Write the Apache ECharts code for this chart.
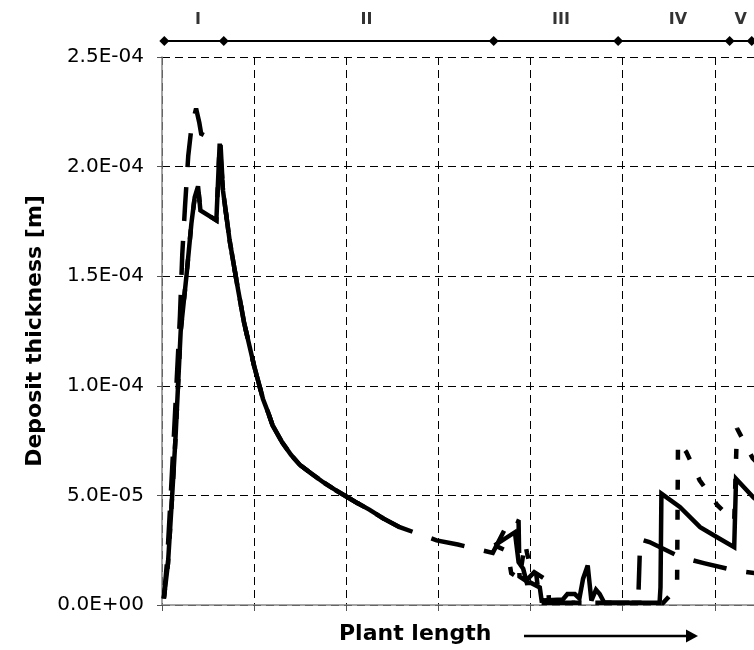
<!DOCTYPE html>
<html>
<head>
<meta charset="utf-8">
<script src="https://cdn.jsdelivr.net/npm/echarts@6/dist/echarts.min.js"></script>
<style>
  html, body { margin: 0; padding: 0; background: #fff; }
  #chart { width: 754px; height: 650px; }
</style>
</head>
<body>
<div id="chart"></div>
<script>
// Plant sections along the length axis (x in plant-length units, 10 per grid cell)
const sectionEdges = [0.25, 6.7, 36.0, 49.5, 61.6, 64.0];
const sectionNames = ['I', 'II', 'III', 'IV', 'V'];
const sectionNameAt = [3.9, 22.2, 43.3, 56.0, 62.8];
const sectionBarLevel = 2.573e-4;
const sectionNameLevel = 2.67e-4;

// y-axis scale
const yMin = 0, yMax = 2.5e-4, yStep = 5e-5;

// Deposit thickness [m] — section I, solid case
const solidI = [
  [0.2, 3e-6], [0.65, 1.9e-5], [1.09, 4.9e-5], [1.45, 7.5e-5], [1.74, 1.0e-4],
  [2.03, 1.25e-4], [2.65, 1.50e-4], [3.19, 1.74e-4], [3.55, 1.86e-4], [3.91, 1.91e-4],
  [4.17, 1.80e-4], [5.90, 1.755e-4], [6.26, 2.105e-4]
];
// section I, dashed case
const dashI = [
  [0.2, 3e-6], [0.55, 2.0e-5], [0.95, 5.0e-5], [1.3, 7.8e-5], [1.6, 1.03e-4],
  [1.95, 1.32e-4], [2.2, 1.6e-4], [2.5, 1.82e-4], [2.85, 2.05e-4], [3.2, 2.18e-4],
  [3.7, 2.265e-4], [4.05, 2.2e-4], [4.25, 2.15e-4], [6.35, 2.105e-4]
];
// section II decay, shared by all cases
const decayII = [
  [6.62, 1.89e-4], [7.35, 1.66e-4], [8.25, 1.44e-4], [8.9, 1.29e-4], [9.5, 1.18e-4],
  [10.0, 1.09e-4], [10.96, 9.4e-5], [11.5, 8.8e-5], [12.0, 8.2e-5], [13.0, 7.45e-5],
  [14.0, 6.85e-5], [14.94, 6.4e-5], [16.2, 6.0e-5], [17.5, 5.6e-5], [18.8, 5.25e-5],
  [20.0, 4.95e-5], [21.2, 4.65e-5], [22.5, 4.35e-5], [24.0, 3.95e-5], [25.8, 3.55e-5]
];
// sections III–V
const solidIIItoV = [
  [36.1, 2.72e-5], [38.3, 3.32e-5], [38.7, 1.95e-5], [39.2, 1.65e-5], [39.6, 1.0e-5],
  [40.0, 1.02e-5], [41.0, 8e-6], [41.2, 2e-6], [43.5, 2.5e-6], [44.0, 5e-6],
  [44.8, 5e-6], [45.3, 3e-6], [45.7, 1.2e-5], [46.2, 1.8e-5], [46.6, 2e-6],
  [47.1, 7e-6], [47.5, 5e-6], [48.0, 1e-6], [54.0, 1e-6], [54.1, 8e-6],
  [54.2, 5.08e-5], [56.2, 4.47e-5], [58.4, 3.55e-5], [60.2, 3.1e-5], [62.1, 2.64e-5],
  [62.3, 5.76e-5], [64.2, 4.9e-5], [66.0, 4.3e-5]
];
const dashIItoV = [
  [29.8, 2.95e-5], [32.1, 2.76e-5], [35.9, 2.38e-5], [37.8, 3.95e-5], [38.7, 3.8e-5],
  [38.8, 1.3e-5], [39.5, 1.1e-5], [40.4, 1.5e-5], [41.9, 1.1e-5], [42.0, 1e-6],
  [51.4, 1e-6], [51.7, 4e-6], [51.9, 3.0e-5], [52.9, 2.87e-5], [56.3, 2.18e-5],
  [58.9, 1.9e-5], [62.1, 1.58e-5], [64.5, 1.45e-5], [66.0, 1.35e-5]
];
const dotIIItoV = [
  [36.1, 2.72e-5], [37.5, 2.45e-5], [37.9, 1.45e-5], [38.8, 1.2e-5], [39.4, 2.86e-5],
  [39.6, 2.4e-5], [40.1, 1.5e-5], [40.6, 1.45e-5], [41.0, 1e-6], [54.4, 1e-6],
  [55.9, 8e-6], [56.0, 7.46e-5], [56.9, 6.98e-5], [58.35, 5.69e-5], [60.3, 4.54e-5],
  [62.1, 3.8e-5], [62.4, 8.06e-5], [64.1, 6.7e-5], [66.0, 5.9e-5]
];

const gap = [[30, '-']];
const solidData = solidI.concat(decayII, gap, solidIIItoV);
const dashData = dashI.concat(decayII, dashIItoV);
const dotData = solidI.concat(decayII, gap, dotIIItoV);

function sci(v) {
  const parts = Number(v).toExponential(1).split('e');
  const e = parseInt(parts[1], 10);
  return parts[0] + 'E' + (e < 0 ? '-' : '+') + String(Math.abs(e)).padStart(2, '0');
}

const FONT = 'DejaVu Sans';
const chart = echarts.init(document.getElementById('chart'), null, { renderer: 'canvas' });

chart.setOption({
  animation: false,
  backgroundColor: '#ffffff',
  // the plot area runs past the right edge of the canvas
  grid: { left: 162, width: 645, top: 57, bottom: 45, outerBoundsMode: 'none', containLabel: false },
  xAxis: {
    type: 'value', min: 0, max: 70, interval: 10,
    axisLine: { show: true, onZero: false, lineStyle: { color: '#868686', width: 1.5 } },
    axisTick: { show: true, length: 6, lineStyle: { color: '#555', width: 1 } },
    axisLabel: { show: false },
    splitLine: { show: true, lineStyle: { color: '#000', width: 1, type: [8, 5] } }
  },
  yAxis: {
    type: 'value', min: yMin, max: yMax, interval: yStep,
    name: 'Deposit thickness [m]', nameLocation: 'middle', nameGap: 116,
    nameTextStyle: { fontFamily: FONT, fontWeight: 'bold', fontSize: 22, color: '#000' },
    axisLine: { show: true, lineStyle: { color: '#868686', width: 1.5 } },
    axisTick: { show: true, length: 5, lineStyle: { color: '#555', width: 1 } },
    axisLabel: { margin: 18, fontFamily: FONT, fontSize: 20, color: '#000', formatter: sci },
    splitLine: { show: true, lineStyle: { color: '#000', width: 1, type: [8, 5] } }
  },
  graphic: [
    { type: 'text', left: 339, top: 623, silent: true,
      style: { text: 'Plant length', fontFamily: FONT, fontWeight: 'bold', fontSize: 22, fill: '#000' } },
    { type: 'line', silent: true, shape: { x1: 524, y1: 636, x2: 688, y2: 636 },
      style: { stroke: '#000', lineWidth: 2.5 } },
    { type: 'polygon', silent: true, shape: { points: [[686, 629.5], [698, 636], [686, 642.5]] },
      style: { fill: '#000' } }
  ],
  series: [
    {
      name: 'dashed', type: 'line', data: dashData, symbol: 'none', z: 3,
      lineStyle: { color: '#000', width: 4.5, type: [34, 20], join: 'miter', miterLimit: 3 }
    },
    {
      name: 'dotted', type: 'line', data: dotData, symbol: 'none', z: 4,
      lineStyle: { color: '#000', width: 4.5, type: [10, 20], join: 'miter', miterLimit: 3 }
    },
    {
      name: 'solid', type: 'line', data: solidData, symbol: 'none', z: 5,
      lineStyle: { color: '#000', width: 4.5, type: 'solid', join: 'miter', miterLimit: 3 }
    },
    {
      name: 'sections', type: 'line', clip: false, z: 6,
      data: sectionEdges.map(x => [x, sectionBarLevel]),
      symbol: 'diamond', symbolSize: 10, showSymbol: true,
      itemStyle: { color: '#000' },
      lineStyle: { color: '#000', width: 2 }
    },
    {
      name: 'sectionNames', type: 'scatter', clip: false, z: 6,
      data: sectionNameAt.map((x, i) => ({ value: [x, sectionNameLevel], name: sectionNames[i] })),
      symbolSize: 0,
      label: {
        show: true, position: 'inside', formatter: p => p.name,
        fontFamily: FONT, fontWeight: 'bold', fontSize: 16, color: '#000'
      }
    }
  ]
});
</script>
</body>
</html>
